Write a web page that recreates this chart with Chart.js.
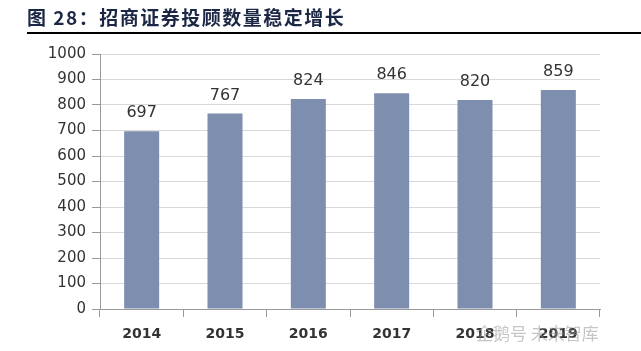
<!DOCTYPE html>
<html>
<head>
<meta charset="utf-8">
<script src="https://cdn.jsdelivr.net/npm/chart.js@4"></script>
<style>
  body { margin: 0; background: #fff; }
  #wrap { position: relative; width: 641px; height: 351px; overflow: hidden; }
  #title {
    position: absolute; left: 27px; top: 4px; right: 0;
    font-family: "Noto Sans CJK SC", sans-serif; font-weight: bold;
    font-size: 19px; letter-spacing: 1.5px; color: #1b2744;
    padding-bottom: 2px; border-bottom: 2px solid #000; line-height: 26px;
  }
  #mark {
    position: absolute; left: 476px; top: 320px;
    font-family: "Noto Sans CJK SC", sans-serif; font-size: 17px; color: rgba(150,150,150,0.55);
  }
  canvas { position: absolute; left: 0; top: 0; }
</style>
</head>
<body>
<div id="wrap">
  <canvas id="myChart" width="641" height="351"></canvas>
  <div id="title">图&nbsp;28：招商证券投顾数量稳定增长</div>
  <div id="mark">企鹅号 未来智库</div>
</div>
<script>
// data
const years = ['2014', '2015', '2016', '2017', '2018', '2019'];
const advisors = [697, 767, 824, 846, 820, 859];
const yTicks = [0, 100, 200, 300, 400, 500, 600, 700, 800, 900, 1000];

// draws the value above every bar
const barLabels = {
    id: 'barLabels',
    afterDatasetsDraw(chart) {
        const ctx = chart.ctx;
        const meta = chart.getDatasetMeta(0);
        ctx.save();
        ctx.font = '16px "DejaVu Sans"';
        ctx.fillStyle = '#333';
        ctx.textAlign = 'center';
        ctx.textBaseline = 'middle';
        meta.data.forEach((bar, i) => {
            ctx.fillText(advisors[i], bar.x, bar.y - 18);
        });
        ctx.restore();
    }
};

var ctx = document.getElementById('myChart').getContext('2d');
var myChart = new Chart(ctx, {
    type: 'bar',
    data: {
        labels: years,
        datasets: [{
            label: '投顾数量',
            data: advisors,
            backgroundColor: '#7d8eae',
            borderWidth: 0,
            categoryPercentage: 1,
            barPercentage: 0.42
        }]
    },
    options: {
        responsive: false,
        animation: false,
        layout: { padding: { left: 0, right: 41, top: 54, bottom: 0 } },
        plugins: { legend: { display: false }, tooltip: { enabled: false } },
        scales: {
            x: {
                grid: { display: true, drawOnChartArea: false, drawTicks: true, tickLength: 8, color: '#999', offset: true },
                border: { color: '#999', width: 1 },
                ticks: { font: { family: 'DejaVu Sans', size: 14, weight: 'bold' }, color: '#333', padding: 9 },
                afterFit(scale) { scale.height = 42; }
            },
            y: {
                min: 0,
                max: 1000,
                afterBuildTicks(scale) { scale.ticks = yTicks.map(v => ({ value: v })); },
                grid: { color: '#d9d9d9', tickLength: 8, tickColor: '#999' },
                border: { color: '#999', width: 1 },
                ticks: {
                    font: { family: 'DejaVu Sans', size: 15 }, color: '#333', padding: 6,
                    callback: v => String(v)
                },
                afterFit(scale) { scale.width = 100; }
            }
        }
    },
    plugins: [barLabels]
});
</script>
</body>
</html>
